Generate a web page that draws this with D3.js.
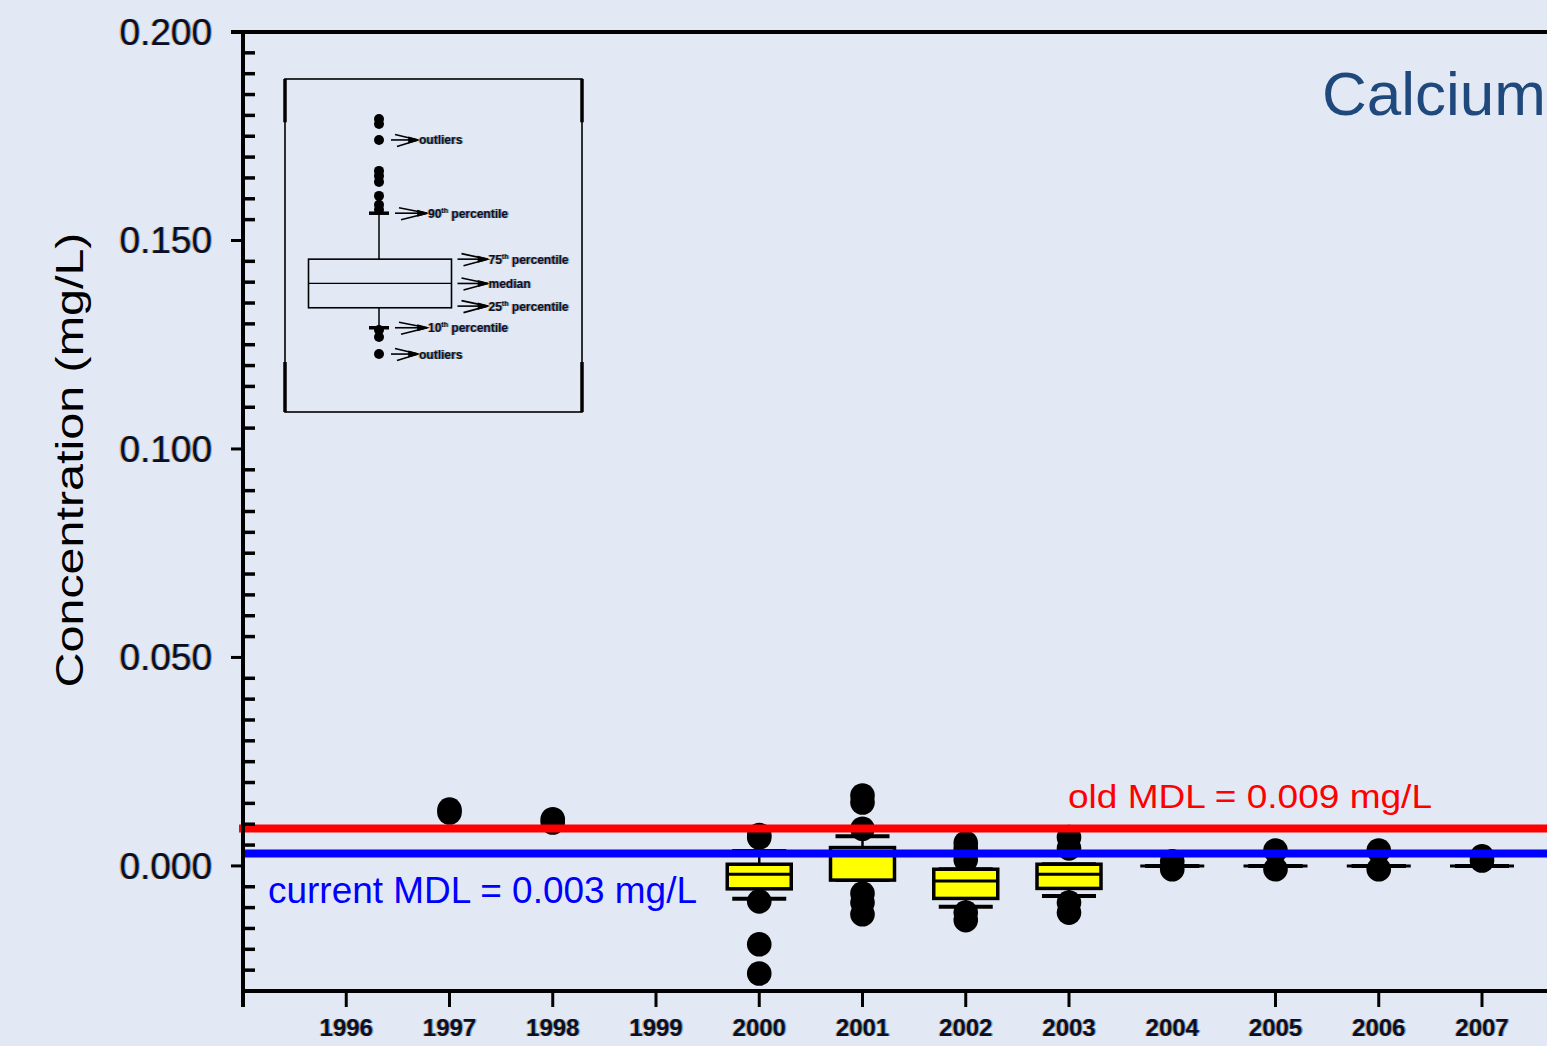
<!DOCTYPE html>
<html>
<head>
<meta charset="utf-8">
<script src="https://cdn.jsdelivr.net/npm/d3@7"></script>
<style>
  html, body { margin: 0; padding: 0; background: #e3e9f4; overflow: hidden; }
  svg { display: block; }
  text { font-family: "Liberation Sans", Arial, Helvetica, sans-serif; }
</style>
</head>
<body>
<svg id="chart" width="1547" height="1046"></svg>
<script>
// ---- Annual calcium concentrations (mg/L): box-plot statistics per year ----
const years     = [1996, 1997, 1998, 1999, 2000, 2001, 2002, 2003, 2004, 2005, 2006, 2007];
const tickYears = [1996, 1997, 1998, 1999, 2000, 2001, 2002, 2003, 2005, 2006, 2007];
const p10 = [null, null, null, null, -0.0079, -0.0034, -0.0098, -0.0072, 0, 0, 0, 0];
const p25 = [null, null, null, null, -0.0055, -0.0034, -0.0078, -0.0054, 0, 0, 0, 0];
const p50 = [null, null, null, null, -0.0020,  0.0044, -0.0036, -0.0020, 0, 0, 0, 0];
const p75 = [null, null, null, null,  0.0004,  0.0044, -0.0008,  0.0004, 0, 0, 0, 0];
const p90 = [null, null, null, null,  0.0036,  0.0071, -0.0008,  0.0004, 0, 0, 0, 0];
const outliers = [
  [],
  [0.0135, 0.0128],
  [0.0112, 0.0104],
  [],
  [0.0074, 0.0068, -0.0085, -0.0188, -0.0258],
  [0.0169, 0.0152, 0.0089, -0.0066, -0.0088, -0.0116],
  [0.0055, 0.0042, 0.0015, -0.0112, -0.0130],
  [0.0069, 0.0042, -0.0088, -0.0112],
  [0.0011, -0.0008],
  [0.0037, -0.0008],
  [0.0037, -0.0008],
  [0.0023, 0.0013]
];

// y axis ticks
const yMajorTicks = [0, 0.05, 0.10, 0.15, 0.20];
const yMinorStep = 0.005;

// method detection limits
const mdlValues = [0.009, 0.003];
const mdlLabels = ["old MDL = 0.009 mg/L", "current MDL = 0.003 mg/L"];
const mdlColors = ["#ff0000", "#0000ff"];

const chartTitle = "Calcium";
const yTitle = "Concentration (mg/L)";

// ---- explanatory key: a sample box plot on a 0-100 scale ----
const keyStats = { p10: 25.3, p25: 31.3, p50: 38.6, p75: 45.9, p90: 59.7 };
const keyDots = [88.0, 86.5, 81.7, 72.4, 70.9, 69.1, 64.9, 62.2, 60.7, 24.6, 22.5, 17.4];
const keyLabels = [
  { kind: "dot",     at: 81.7,          num: "",   text: "outliers" },
  { kind: "whisker", at: keyStats.p90,  num: "90", text: " percentile" },
  { kind: "box",     at: keyStats.p75,  num: "75", text: " percentile" },
  { kind: "box",     at: keyStats.p50,  num: "",   text: "median" },
  { kind: "box",     at: keyStats.p25 + 0.5, num: "25", text: " percentile" },
  { kind: "whisker", at: keyStats.p10,  num: "10", text: " percentile" },
  { kind: "dot",     at: 17.4,          num: "",   text: "outliers" }
];

// ---- layout ----
const W = 1547, H = 1046;
const svg = d3.select("#chart");
svg.append("rect").attr("width", W).attr("height", H).attr("fill", "#e3e9f4");

const x = d3.scaleLinear().domain([1995, 2007]).range([243, 1482]);
const y = d3.scaleLinear().domain([-0.03, 0.20]).range([991, 32]);
const xLeft = x(1995);

// text with the slight colour fringe seen on the axis and key lettering
function fringed(parent, draw) {
  const layers = [
    { fill: "#e49a3c", dx: -1.1, op: 0.75 },
    { fill: "#3f95e6", dx: 1.1, op: 0.75 },
    { fill: "#0c0f22", dx: 0, op: 1 }
  ];
  layers.forEach(l => {
    const g = parent.append("g").attr("transform", `translate(${l.dx},0)`)
      .attr("fill", l.fill).attr("opacity", l.op);
    draw(g);
  });
}

// ---- box plots ----
const boxW = 64, capW = 54, dotR = 12.3;
const plot = svg.append("g");

// outliers first, boxes drawn on top
years.forEach((yr, i) => {
  plot.selectAll(null).data(outliers[i]).enter().append("circle")
    .attr("cx", x(yr)).attr("cy", d => y(d)).attr("r", dotR).attr("fill", "#000");
});

years.forEach((yr, i) => {
  if (p25[i] === null) return;
  const cx = x(yr);
  const g = plot.append("g").attr("stroke", "#000");
  g.append("line").attr("x1", cx).attr("x2", cx).attr("y1", y(p90[i])).attr("y2", y(p75[i])).attr("stroke-width", 2.5);
  g.append("line").attr("x1", cx).attr("x2", cx).attr("y1", y(p25[i])).attr("y2", y(p10[i])).attr("stroke-width", 2.5);
  [p90[i], p10[i]].forEach(v => {
    g.append("line").attr("x1", cx - capW / 2).attr("x2", cx + capW / 2)
      .attr("y1", y(v)).attr("y2", y(v)).attr("stroke-width", 4);
  });
  g.append("rect").attr("x", cx - boxW / 2).attr("width", boxW)
    .attr("y", y(p75[i])).attr("height", y(p25[i]) - y(p75[i]))
    .attr("fill", "#ffff00").attr("stroke-width", 3.5);
  g.append("line").attr("x1", cx - boxW / 2).attr("x2", cx + boxW / 2)
    .attr("y1", y(p50[i])).attr("y2", y(p50[i])).attr("stroke-width", 3);
});

// ---- MDL reference lines ----
mdlValues.forEach((v, i) => {
  svg.append("line").attr("x1", i === 0 ? xLeft - 4 : xLeft).attr("x2", W)
    .attr("y1", y(v)).attr("y2", y(v))
    .attr("stroke", mdlColors[i]).attr("stroke-width", 8);
});
svg.append("text").attr("x", 1068).attr("y", 808).attr("font-size", 33)
  .attr("textLength", 364).attr("lengthAdjust", "spacingAndGlyphs")
  .attr("fill", mdlColors[0]).text(mdlLabels[0]);
svg.append("text").attr("x", 268).attr("y", 903).attr("font-size", 37)
  .attr("textLength", 429).attr("lengthAdjust", "spacingAndGlyphs")
  .attr("fill", mdlColors[1]).text(mdlLabels[1]);

// ---- axes ----
const axes = svg.append("g").attr("stroke", "#000");
// left spine (runs past the x axis) and top frame line
axes.append("line").attr("x1", xLeft).attr("x2", xLeft).attr("y1", y(0.2) - 2).attr("y2", 1007).attr("stroke-width", 4);
axes.append("line").attr("x1", xLeft - 12).attr("x2", W).attr("y1", y(0.2)).attr("y2", y(0.2)).attr("stroke-width", 4);
// bottom axis line
axes.append("line").attr("x1", xLeft - 2).attr("x2", W).attr("y1", y(-0.03)).attr("y2", y(-0.03)).attr("stroke-width", 4);

// major y ticks outward
axes.selectAll(null).data(yMajorTicks).enter().append("line")
  .attr("x1", xLeft - 12).attr("x2", xLeft).attr("y1", d => y(d)).attr("y2", d => y(d)).attr("stroke-width", 3);
// minor y ticks inward
const minorTicks = d3.range(-5, 40).filter(k => k % 10 !== 0).map(k => k * yMinorStep);
axes.selectAll(null).data(minorTicks).enter().append("line")
  .attr("x1", xLeft).attr("x2", xLeft + 12).attr("y1", d => y(d)).attr("y2", d => y(d)).attr("stroke-width", 3.5);
// x ticks
axes.selectAll(null).data(tickYears).enter().append("line")
  .attr("x1", d => x(d)).attr("x2", d => x(d)).attr("y1", y(-0.03)).attr("y2", y(-0.03) + 16).attr("stroke-width", 3);

// tick labels
const fmt = d3.format(".3f");
fringed(svg, g => {
  g.selectAll(null).data(yMajorTicks).enter().append("text")
    .attr("x", xLeft - 31).attr("y", d => y(d)).attr("dy", "0.35em")
    .attr("text-anchor", "end").attr("font-size", 37).text(fmt);
  g.selectAll(null).data(years).enter().append("text")
    .attr("x", d => x(d)).attr("y", 1036).attr("text-anchor", "middle")
    .attr("font-size", 24).attr("font-weight", "bold").text(d => d);
});

// y axis title
svg.append("text").attr("transform", "translate(83,460) rotate(-90)")
  .attr("text-anchor", "middle").attr("font-size", 39)
  .attr("textLength", 455).attr("lengthAdjust", "spacingAndGlyphs")
  .attr("fill", "#000").text(yTitle);

// chart title
svg.append("text").attr("x", 1322).attr("y", 115).attr("font-size", 62)
  .attr("fill", "#1f497d").text(chartTitle);

// ---- key ----
const key = svg.append("g");
const kx0 = 285, kx1 = 582;
const ky = d3.scaleLinear().domain([0, 100]).range([412, 79]);
const kcx = 380, kBoxW = 143;
key.append("rect").attr("x", kx0).attr("y", ky(100)).attr("width", kx1 - kx0).attr("height", ky(0) - ky(100))
  .attr("fill", "none").attr("stroke", "#000").attr("stroke-width", 1.6);
[kx0, kx1].forEach(xx => {
  [[100, 87], [15, 0]].forEach(([a, b]) => {
    key.append("line").attr("x1", xx).attr("x2", xx).attr("y1", ky(a)).attr("y2", ky(b))
      .attr("stroke", "#000").attr("stroke-width", 3.5);
  });
});
key.selectAll(null).data(keyDots).enter().append("circle")
  .attr("cx", kcx - 1).attr("cy", d => ky(d)).attr("r", 5).attr("fill", "#000");
key.append("line").attr("x1", kcx - 1).attr("x2", kcx - 1).attr("y1", ky(keyStats.p90)).attr("y2", ky(keyStats.p75)).attr("stroke", "#000").attr("stroke-width", 1.5);
key.append("line").attr("x1", kcx - 1).attr("x2", kcx - 1).attr("y1", ky(keyStats.p25)).attr("y2", ky(keyStats.p10)).attr("stroke", "#000").attr("stroke-width", 1.5);
[keyStats.p90, keyStats.p10].forEach(v => {
  key.append("line").attr("x1", kcx - 11).attr("x2", kcx + 9).attr("y1", ky(v)).attr("y2", ky(v))
    .attr("stroke", "#000").attr("stroke-width", 3.5);
});
key.append("rect").attr("x", kcx - kBoxW / 2).attr("width", kBoxW)
  .attr("y", ky(keyStats.p75)).attr("height", ky(keyStats.p25) - ky(keyStats.p75))
  .attr("fill", "none").attr("stroke", "#000").attr("stroke-width", 1.6);
key.append("line").attr("x1", kcx - kBoxW / 2).attr("x2", kcx + kBoxW / 2)
  .attr("y1", ky(keyStats.p50)).attr("y2", ky(keyStats.p50)).attr("stroke", "#000").attr("stroke-width", 1.2);

// arrows and labels in the key
function arrowStart(d) {
  if (d.kind === "box") return kcx + kBoxW / 2 + 6;
  if (d.kind === "whisker") return kcx + 15;
  return kcx + 11;
}
function arrowLen(d) { return d.kind === "dot" ? 27 : (d.kind === "box" ? 30 : 32); }
keyLabels.forEach(d => {
  const a = arrowStart(d), b = a + arrowLen(d), yy = ky(d.at);
  const g = key.append("g").attr("stroke", "#000").attr("stroke-width", 1.6).attr("fill", "none");
  g.append("line").attr("x1", a).attr("x2", b).attr("y1", yy).attr("y2", yy);
  g.append("line").attr("x1", a + 4).attr("x2", b).attr("y1", yy - 5.5).attr("y2", yy);
  g.append("line").attr("x1", a + 6).attr("x2", b).attr("y1", yy + 6.5).attr("y2", yy);
  g.append("path").attr("d", `M${b - 9},${yy - 2.5}L${b},${yy}L${b - 9},${yy + 2.5}Z`).attr("fill", "#000");
});
fringed(key, g => {
  keyLabels.forEach(d => {
    const tx = arrowStart(d) + arrowLen(d) + 1;
    const t = g.append("text").attr("x", tx).attr("y", ky(d.at) + 4.5)
      .attr("font-size", 12).attr("font-weight", "bold");
    if (d.num) {
      t.append("tspan").text(d.num);
      t.append("tspan").attr("font-size", 7).attr("dy", -5).text("th");
      t.append("tspan").attr("dy", 5).text(d.text);
    } else {
      t.text(d.text);
    }
  });
});
</script>
</body>
</html>
